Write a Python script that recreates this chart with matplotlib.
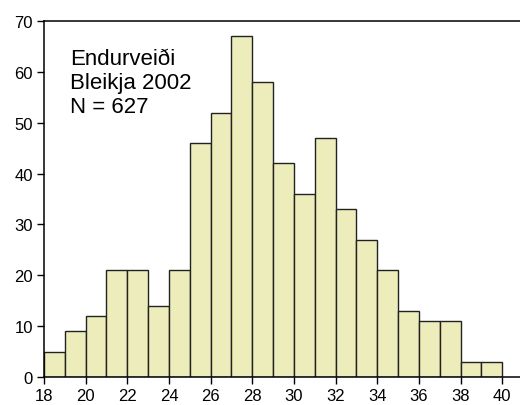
import matplotlib; matplotlib.use("Agg")
import matplotlib.pyplot as plt

bin_left = [18, 19, 20, 21, 22, 23, 24, 25, 26, 27, 28, 29, 30, 31, 32, 33, 34, 35, 36, 37, 38, 39]
counts = [5, 9, 12, 21, 21, 14, 21, 46, 52, 67, 58, 42, 36, 47, 33, 27, 21, 13, 11, 11, 3, 3]
xticks = list(range(18, 41, 2))
yticks = list(range(0, 71, 10))

plt.rcParams["font.family"] = ["Liberation Sans", "DejaVu Sans"]
fig = plt.figure(figsize=(5.2, 4.06), dpi=100)
ax = fig.add_axes([44/520, 28/406, 479/520, 356/406])
ax.bar(bin_left, counts, width=1, align="edge", color="#EDEDBB", edgecolor="#222222", lw=1.0)
ax.set_xlim(18, 41)
ax.set_ylim(0, 70)
ax.set_xticks(xticks)
ax.set_yticks(yticks)
ax.tick_params(labelsize=12, length=5, width=1, colors="black", pad=3)
ax.spines["right"].set_visible(False)
for s in ["left", "bottom", "top"]:
    ax.spines[s].set_linewidth(1.1)
ax.text(0.054, 0.925, "Endurveiði\nBleikja 2002\nN = 627", transform=ax.transAxes,
        fontsize=16, ha="left", va="top", linespacing=1.2)
fig.savefig("out.png", dpi=100)
